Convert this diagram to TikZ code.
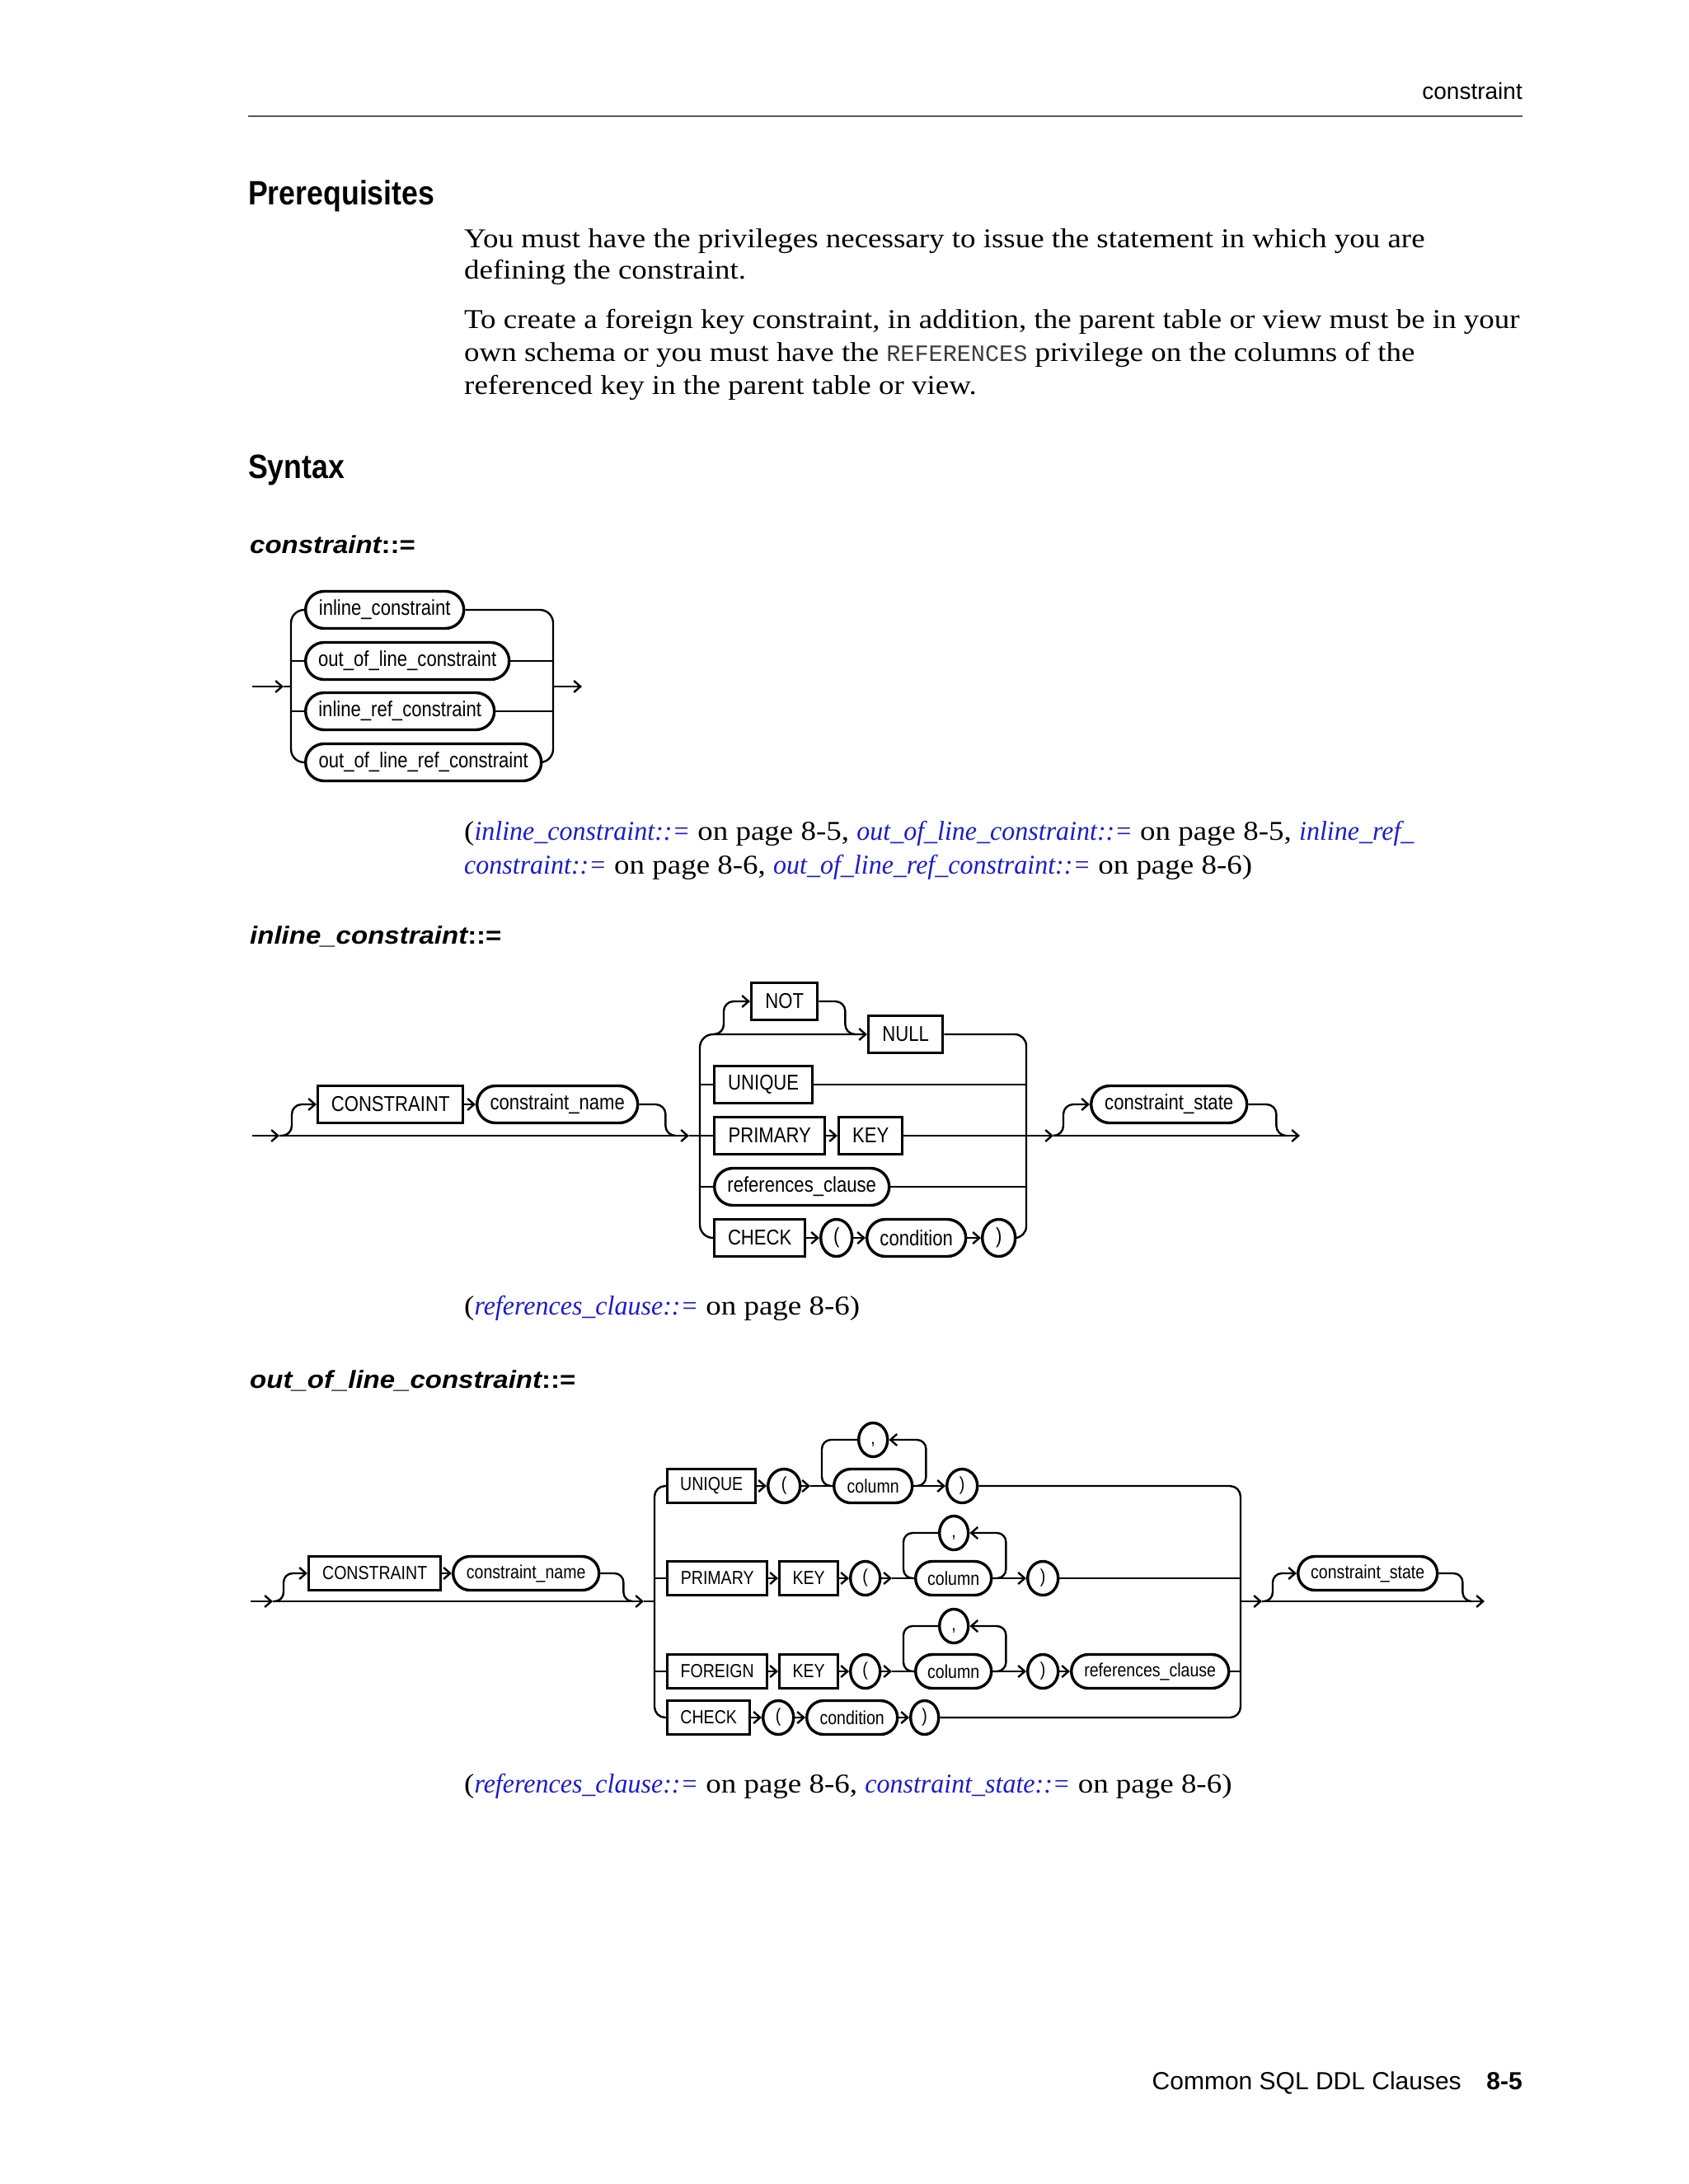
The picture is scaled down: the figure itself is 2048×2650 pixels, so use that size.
\documentclass[tikz,border=0pt]{standalone}
\usepackage{fontspec}
\usetikzlibrary{arrows.meta,shapes.misc,shapes.geometric}
\newfontfamily\bodyf[FakeStretch=1.12,ItalicFeatures={FakeStretch=0.97}]{Liberation Serif}
\newfontfamily\monof{Liberation Mono}
\newfontfamily\dgf[FakeStretch=0.85]{Liberation Sans}
\newfontfamily\headf[FakeStretch=0.87]{Liberation Sans}
\newfontfamily\sansf{Liberation Sans}
\newfontfamily\prodf[FakeStretch=1.1]{Liberation Sans}
\definecolor{linkblue}{RGB}{28,28,200}
\definecolor{rulegray}{RGB}{90,90,90}
\definecolor{monogray}{RGB}{60,60,60}
\newcommand{\lk}[1]{{\color{linkblue}\itshape #1}}
\begin{document}
\begin{tikzpicture}[x=1pt,y=-1pt,
  >={Straight Barb[length=8pt,width=14pt]},
  conn/.style={line width=2.4pt},
  kw/.style={draw,rectangle,line width=3.4pt,inner sep=0pt,anchor=west},
  nt/.style={draw,rounded rectangle,line width=3.4pt,inner sep=0pt,anchor=west},
  sym/.style={draw,ellipse,line width=3.4pt,inner sep=0pt,anchor=west},
  dA/.style={font=\dgf\fontsize{26}{30}\selectfont,minimum height=45},
  dB/.style={font=\dgf\fontsize{23}{27}\selectfont,minimum height=41},
  body/.style={font=\bodyf\fontsize{33}{40}\selectfont,anchor=base west,inner sep=0pt},
  head/.style={font=\headf\bfseries\fontsize{41}{46}\selectfont,anchor=base west,inner sep=0pt},
  prod/.style={font=\prodf\bfseries\fontsize{30}{34}\selectfont,anchor=base west,inner sep=0pt},
]
\fill[white] (0,0) rectangle (2048,2650);
\useasboundingbox (0,0) rectangle (2048,2650);

% ---------- page header ----------
\node[font=\sansf\fontsize{28}{32}\selectfont,anchor=base east,inner sep=0pt] (hdr) at (1847,120) {constraint};
\coordinate (ruleL) at (301,141);
\coordinate (ruleR) at (1847,141);
\draw[line width=1.6pt,rulegray] (ruleL) -- (ruleR);

% ---------- Prerequisites ----------
\node[head] (prereq) at (301,248) {Prerequisites};
\node[body] (p1) at (563,300) {You must have the privileges necessary to issue the statement in which you are};
\node[body] (p2) at (563,338) {defining the constraint.};
\node[body] (p3) at (563,398) {To create a foreign key constraint, in addition, the parent table or view must be in your};
\node[body] (p4) at (563,438) {own schema or you must have the {\monof\fontsize{28.5}{32}\selectfont\color{monogray}REFERENCES} privilege on the columns of the};
\node[body] (p5) at (563,478) {referenced key in the parent table or view.};

% ---------- Syntax ----------
\node[head] (syntax) at (301,580) {Syntax};
\node[prod] (prodA) at (303,671) {\itshape constraint\upshape::=};

% ---------- diagram 1 : constraint ----------
\node[nt,dA,minimum width=192] (a1) at (369,740) {inline\_constraint};
\node[nt,dA,minimum width=247] (a2) at (369,802) {out\_of\_line\_constraint};
\node[nt,dA,minimum width=229] (a3) at (369,863) {inline\_ref\_constraint};
\node[nt,dA,minimum width=286] (a4) at (369,925) {out\_of\_line\_ref\_constraint};
\coordinate (a-in) at (306,833);
\coordinate (a-t) at (344,833);
\coordinate (a-L) at (353,833);
\coordinate (a-R) at (671,833);
\coordinate (a-out) at (706,833);
\draw[conn,->] (a-in) -- (a-t);
\draw[conn] (a-t) -- (a-L);
\draw[conn,rounded corners=16pt] (a1.west) -| (a-L) |- (a4.west);
\draw[conn] (a2.west -| a-L) -- (a2.west);
\draw[conn] (a3.west -| a-L) -- (a3.west);
\draw[conn,rounded corners=16pt] (a1.east) -| (a-R) |- (a4.east);
\draw[conn] (a2.east) -- (a2.east -| a-R);
\draw[conn] (a3.east) -- (a3.east -| a-R);
\draw[conn,->] (a-R) -- (a-out);

\node[body] (capA1) at (563,1019) {(\lk{inline\_constraint::=} on page 8-5, \lk{out\_of\_line\_constraint::=} on page 8-5, \lk{inline\_ref\_}};
\node[body] (capA2) at (563,1060) {\lk{constraint::=} on page 8-6, \lk{out\_of\_line\_ref\_constraint::=} on page 8-6)};

% ---------- diagram 2 : inline_constraint ----------
\node[prod] (prodB) at (303,1145) {\itshape inline\_constraint\upshape::=};

\node[kw,dA,minimum width=176] (bC) at (384,1340) {CONSTRAINT};
\node[nt,dA,minimum width=195] (bCN) at (577,1340) {constraint\_name};
\node[kw,dA,minimum width=80] (bNOT) at (910,1215) {NOT};
\node[kw,dA,minimum width=90] (bNULL) at (1052,1255) {NULL};
\node[kw,dA,minimum width=119] (bU) at (865,1316) {UNIQUE};
\node[kw,dA,minimum width=134] (bP) at (865,1378) {PRIMARY};
\node[kw,dA,minimum width=77] (bK) at (1016,1378) {KEY};
\node[nt,dA,minimum width=212] (bRC) at (865,1440) {references\_clause};
\node[kw,dA,minimum width=110] (bCHK) at (865,1502) {CHECK};
\node[sym,dA,minimum width=38] (bO) at (994,1502) {(};
\node[nt,dA,minimum width=120] (bCOND) at (1050,1502) {condition};
\node[sym,dA,minimum width=40] (bX) at (1190,1502) {)};
\node[nt,dA,minimum width=189] (bCS) at (1322,1340) {constraint\_state};

\coordinate (b-in) at (306,1378);
\coordinate (b-t1) at (339,1378);
\coordinate (b-j1) at (820,1378);
\coordinate (b-t2) at (836,1378);
\coordinate (b-L) at (849,1378);
\coordinate (b-n1) at (865,1255);
\coordinate (b-n2) at (1036,1255);
\coordinate (b-R) at (1245,1378);
\coordinate (b-t3) at (1278,1378);
\coordinate (b-j2) at (1560,1378);
\coordinate (b-out) at (1577,1378);

\draw[conn,->] (b-in) -- (b-t1);
\draw[conn,->] (b-t1) -- (b-t2);
\draw[conn] (b-t2) -- (b-L);
\draw[conn,->,rounded corners=12pt] (b-t1) -- ++(15,0) |- (bC.west);
\draw[conn,->] (bC.east) -- (bCN.west);
\draw[conn,rounded corners=12pt] (bCN.east) -- ++(32,0) |- (b-j1);

\draw[conn,->,rounded corners=16pt] (b-L) |- (bNULL.west);
\draw[conn,rounded corners=16pt] (b-L) |- (bCHK.west);
\draw[conn] (b-L |- bU.west) -- (bU.west);
\draw[conn] (b-L) -- (bP.west);
\draw[conn] (b-L |- bRC.west) -- (bRC.west);
\draw[conn,->,rounded corners=12pt] (b-n1) -- ++(13,0) |- (bNOT.west);
\draw[conn,rounded corners=12pt] (bNOT.east) -- ++(32,0) |- (b-n2);

\draw[conn,->] (bP.east) -- (bK.west);
\draw[conn,->] (bCHK.east) -- (bO.west);
\draw[conn,->] (bO.east) -- (bCOND.west);
\draw[conn,->] (bCOND.east) -- (bX.west);

\draw[conn,rounded corners=14pt] (bNULL.east) -| (b-R) |- (bX.east);
\draw[conn] (bU.east) -- (bU.east -| b-R);
\draw[conn] (bRC.east) -- (bRC.east -| b-R);
\draw[conn,->] (bK.east) -- (b-t3);
\draw[conn,->] (b-t3) -- (b-out);
\draw[conn,->,rounded corners=12pt] (b-t3) -- ++(12,0) |- (bCS.west);
\draw[conn,rounded corners=12pt] (bCS.east) -- ++(34,0) |- (b-j2);

\node[body] (capB) at (563,1595) {(\lk{references\_clause::=} on page 8-6)};

% ---------- diagram 3 : out_of_line_constraint ----------
\node[prod] (prodC) at (303,1684) {\itshape out\_of\_line\_constraint\upshape::=};

\node[kw,dB,minimum width=160] (cC) at (373,1909) {CONSTRAINT};
\node[nt,dB,minimum width=177] (cCN) at (548,1909) {constraint\_name};

\node[kw,dB,minimum width=107] (cU) at (808,1803) {UNIQUE};
\node[sym,dB,minimum width=39] (cUo) at (930,1803) {(};
\node[nt,dB,minimum width=95] (cUc) at (1010,1803) {column};
\node[sym,dB,minimum width=35] (cUm) at (1040,1747) {\vphantom{()},};
\node[sym,dB,minimum width=37] (cUx) at (1147,1803) {)};

\node[kw,dB,minimum width=121] (cP) at (808,1915) {PRIMARY};
\node[kw,dB,minimum width=71] (cPk) at (944,1915) {KEY};
\node[sym,dB,minimum width=36] (cPo) at (1030,1915) {(};
\node[nt,dB,minimum width=92] (cPc) at (1109,1915) {column};
\node[sym,dB,minimum width=35] (cPm) at (1138,1860) {\vphantom{()},};
\node[sym,dB,minimum width=37] (cPx) at (1245,1915) {)};

\node[kw,dB,minimum width=121] (cF) at (808,2028) {FOREIGN};
\node[kw,dB,minimum width=71] (cFk) at (944,2028) {KEY};
\node[sym,dB,minimum width=36] (cFo) at (1030,2028) {(};
\node[nt,dB,minimum width=92] (cFc) at (1109,2028) {column};
\node[sym,dB,minimum width=35] (cFm) at (1138,1973) {\vphantom{()},};
\node[sym,dB,minimum width=37] (cFx) at (1245,2028) {)};
\node[nt,dB,minimum width=191] (cFr) at (1298,2028) {references\_clause};

\node[kw,dB,minimum width=100] (cK) at (808,2084) {CHECK};
\node[sym,dB,minimum width=37] (cKo) at (924,2084) {(};
\node[nt,dB,minimum width=110] (cKc) at (977,2084) {condition};
\node[sym,dB,minimum width=34] (cKx) at (1103,2084) {)};

\node[nt,dB,minimum width=169] (cCS) at (1573,1909) {constraint\_state};

\coordinate (c-in) at (304,1943);
\coordinate (c-t1) at (331,1943);
\coordinate (c-j1) at (766,1943);
\coordinate (c-t2) at (781,1943);
\coordinate (c-L) at (794,1943);
\coordinate (c-R) at (1505,1943);
\coordinate (c-t3) at (1531,1943);
\coordinate (c-j2) at (1784,1943);
\coordinate (c-out) at (1801,1943);
\coordinate (c-u1) at (983,1803);
\coordinate (c-p1) at (1082,1915);
\coordinate (c-f1) at (1082,2028);

\draw[conn,->] (c-in) -- (c-t1);
\draw[conn,->] (c-t1) -- (c-t2);
\draw[conn] (c-t2) -- (c-L);
\draw[conn,->,rounded corners=11pt] (c-t1) -- ++(13,0) |- (cC.west);
\draw[conn,->] (cC.east) -- (cCN.west);
\draw[conn,rounded corners=11pt] (cCN.east) -- ++(28,0) |- (c-j1);

\draw[conn,rounded corners=13pt] (c-L) |- (cU.west);
\draw[conn,rounded corners=13pt] (c-L) |- (cK.west);
\draw[conn] (c-L |- cP.west) -- (cP.west);
\draw[conn] (c-L |- cF.west) -- (cF.west);

% UNIQUE row
\draw[conn,->] (cU.east) -- (cUo.west);
\draw[conn,->] (cUo.east) -- (c-u1);
\draw[conn] (c-u1) -- (cUc.west);
\draw[conn,->,rounded corners=11pt] (cUc.east) -- ++(15,0) |- (cUm.east);
\draw[conn,rounded corners=11pt] (cUm.west) -| ([xshift=-13pt]cUc.west) -- (cUc.west);
\draw[conn,->] (cUc.east) -- (cUx.west);

% PRIMARY row
\draw[conn,->] (cP.east) -- (cPk.west);
\draw[conn,->] (cPk.east) -- (cPo.west);
\draw[conn,->] (cPo.east) -- (c-p1);
\draw[conn] (c-p1) -- (cPc.west);
\draw[conn,->,rounded corners=11pt] (cPc.east) -- ++(16,0) |- (cPm.east);
\draw[conn,rounded corners=11pt] (cPm.west) -| ([xshift=-13pt]cPc.west) -- (cPc.west);
\draw[conn,->] (cPc.east) -- (cPx.west);

% FOREIGN row
\draw[conn,->] (cF.east) -- (cFk.west);
\draw[conn,->] (cFk.east) -- (cFo.west);
\draw[conn,->] (cFo.east) -- (c-f1);
\draw[conn] (c-f1) -- (cFc.west);
\draw[conn,->,rounded corners=11pt] (cFc.east) -- ++(16,0) |- (cFm.east);
\draw[conn,rounded corners=11pt] (cFm.west) -| ([xshift=-13pt]cFc.west) -- (cFc.west);
\draw[conn,->] (cFc.east) -- (cFx.west);
\draw[conn,->] (cFx.east) -- (cFr.west);

% CHECK row
\draw[conn,->] (cK.east) -- (cKo.west);
\draw[conn,->] (cKo.east) -- (cKc.west);
\draw[conn,->] (cKc.east) -- (cKx.west);

% right bus
\draw[conn,rounded corners=13pt] (cUx.east) -| (c-R) |- (cKx.east);
\draw[conn] (cPx.east) -- (cPx.east -| c-R);
\draw[conn] (cFr.east) -- (cFr.east -| c-R);
\draw[conn,->] (c-R) -- (c-t3);
\draw[conn,->] (c-t3) -- (c-out);
\draw[conn,->,rounded corners=11pt] (c-t3) -- ++(13,0) |- (cCS.west);
\draw[conn,rounded corners=11pt] (cCS.east) -- ++(29,0) |- (c-j2);

\node[body] (capC) at (563,2175) {(\lk{references\_clause::=} on page 8-6, \lk{constraint\_state::=} on page 8-6)};

% ---------- footer ----------
\node[font=\sansf\fontsize{30}{34}\selectfont,anchor=base east,inner sep=0pt] (foot) at (1773,2535) {Common SQL DDL Clauses};
\node[font=\sansf\bfseries\fontsize{30}{34}\selectfont,anchor=base east,inner sep=0pt] (pageno) at (1847,2535) {8-5};
\end{tikzpicture}
\end{document}
